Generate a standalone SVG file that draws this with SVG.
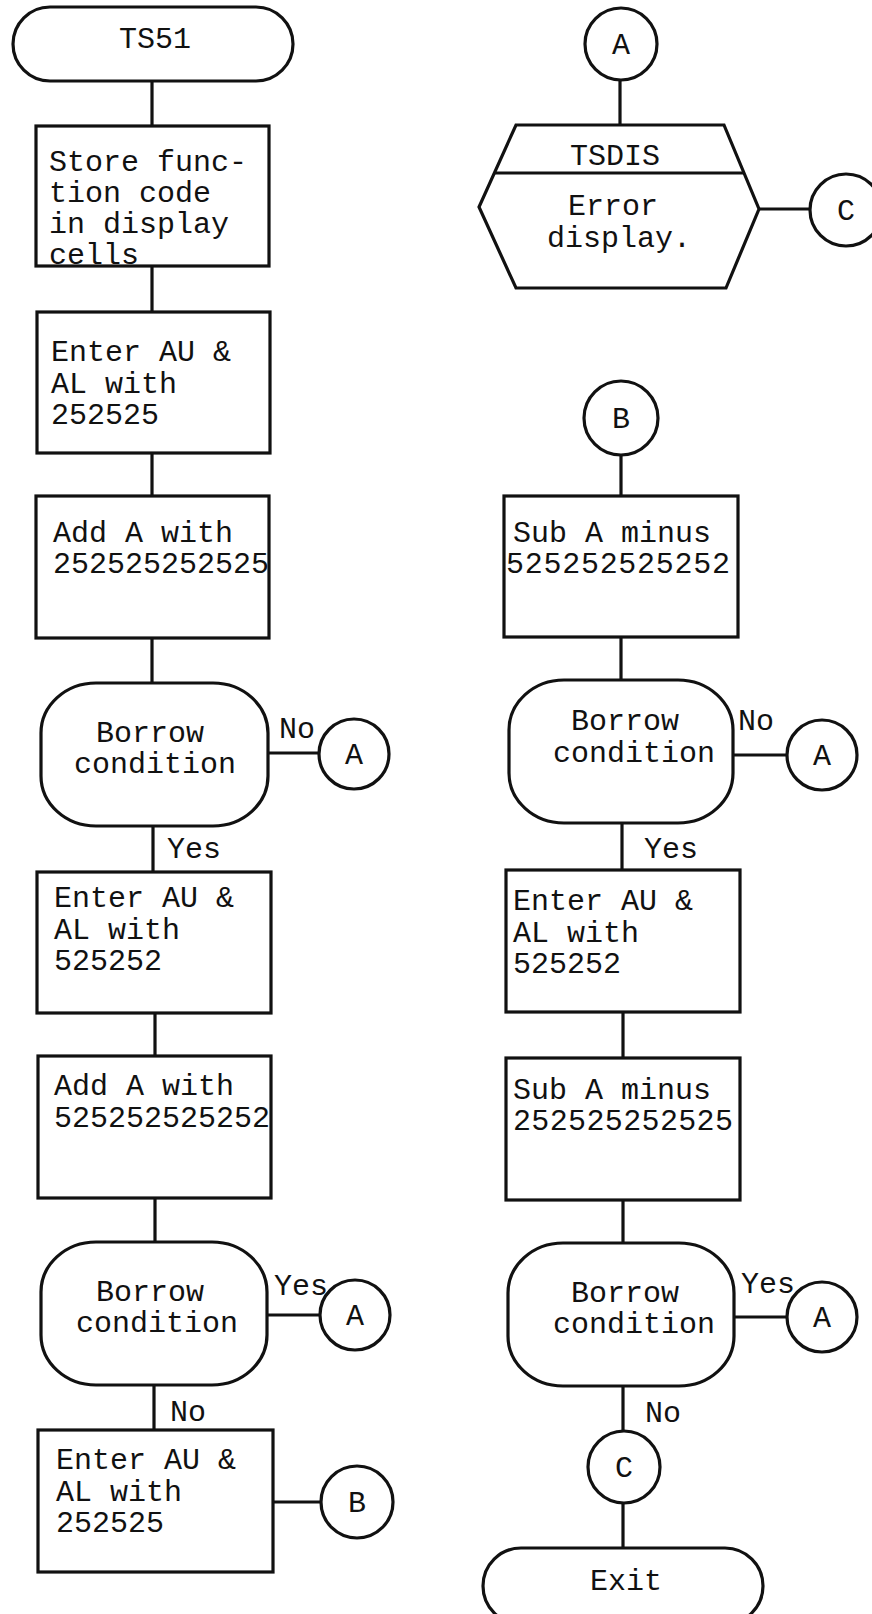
<svg xmlns="http://www.w3.org/2000/svg" width="872" height="1614" viewBox="0 0 872 1614">
<style>
.s{fill:none;stroke:#111;stroke-width:3.2}
.f{fill:#fff;stroke:#111;stroke-width:3.2}
text{font-family:"Liberation Mono","DejaVu Sans Mono",monospace;font-size:30px;fill:#111}
.m{text-anchor:middle}
</style>
<rect width="872" height="1614" fill="#fff"/>
<g id="connectors" class="s">
<line x1="152" y1="81" x2="152" y2="126"/>
<line x1="152" y1="266" x2="152" y2="312"/>
<line x1="152" y1="453" x2="152" y2="496"/>
<line x1="152" y1="638" x2="152" y2="683"/>
<line x1="268" y1="753" x2="319" y2="753"/>
<line x1="153" y1="826" x2="153" y2="872"/>
<line x1="155" y1="1013" x2="155" y2="1056"/>
<line x1="155" y1="1198" x2="155" y2="1242"/>
<line x1="267" y1="1315" x2="320" y2="1315"/>
<line x1="154" y1="1385" x2="154" y2="1430"/>
<line x1="273" y1="1502" x2="321" y2="1502"/>
<line x1="620" y1="80" x2="620" y2="125"/>
<line x1="759" y1="209" x2="810" y2="209"/>
<line x1="621" y1="455" x2="621" y2="496"/>
<line x1="621" y1="637" x2="621" y2="680"/>
<line x1="733" y1="755" x2="786" y2="755"/>
<line x1="622" y1="823" x2="622" y2="870"/>
<line x1="623" y1="1012" x2="623" y2="1058"/>
<line x1="623" y1="1200" x2="623" y2="1243"/>
<line x1="734" y1="1317" x2="786" y2="1317"/>
<line x1="623" y1="1386" x2="623" y2="1431"/>
<line x1="623" y1="1503" x2="623" y2="1548"/>
</g>
<g id="ts51"><rect class="f" x="13" y="7" width="280" height="74" rx="37"/><text x="155" y="48" class="m">TS51</text></g>
<g id="store"><rect class="f" x="36" y="126" width="233" height="140"/>
<text><tspan x="49" y="171">Store func-</tspan><tspan x="49" y="202">tion code</tspan><tspan x="49" y="233">in display</tspan><tspan x="49" y="264">cells</tspan></text></g>
<g id="enter1"><rect class="f" x="37" y="312" width="233" height="141"/>
<text><tspan x="51" y="361">Enter AU &amp;</tspan><tspan x="51" y="393">AL with</tspan><tspan x="51" y="424">252525</tspan></text></g>
<g id="add1"><rect class="f" x="36" y="496" width="233" height="142"/>
<text><tspan x="53" y="542">Add A with</tspan><tspan x="53" y="573" textLength="216">252525252525</tspan></text></g>
<g id="borrow1"><rect class="f" x="41" y="683" width="227" height="143" rx="55" ry="50"/>
<text class="m"><tspan x="150" y="742">Borrow</tspan><tspan x="155" y="773">condition</tspan></text></g>
<text x="279" y="738">No</text>
<g id="connA1"><circle class="f" cx="354" cy="754" r="35"/><text x="354" y="764" class="m">A</text></g>
<text x="167" y="858">Yes</text>
<g id="enter2"><rect class="f" x="37" y="872" width="234" height="141"/>
<text><tspan x="54" y="907">Enter AU &amp;</tspan><tspan x="54" y="939">AL with</tspan><tspan x="54" y="970">525252</tspan></text></g>
<g id="add2"><rect class="f" x="38" y="1056" width="233" height="142"/>
<text><tspan x="54" y="1095">Add A with</tspan><tspan x="54" y="1127" textLength="216">525252525252</tspan></text></g>
<g id="borrow2"><rect class="f" x="41" y="1242" width="226" height="143" rx="55" ry="50"/>
<text class="m"><tspan x="150" y="1301">Borrow</tspan><tspan x="157" y="1332">condition</tspan></text></g>
<text x="274" y="1295">Yes</text>
<g id="connA2"><circle class="f" cx="355" cy="1315" r="35"/><text x="355" y="1325" class="m">A</text></g>
<text x="170" y="1421">No</text>
<g id="enter3"><rect class="f" x="38" y="1430" width="235" height="142"/>
<text><tspan x="56" y="1469">Enter AU &amp;</tspan><tspan x="56" y="1501">AL with</tspan><tspan x="56" y="1532">252525</tspan></text></g>
<g id="connB1"><circle class="f" cx="357" cy="1502" r="36"/><text x="357" y="1512" class="m">B</text></g>
<g id="connA0"><circle class="f" cx="621" cy="44" r="36"/><text x="621" y="54" class="m">A</text></g>
<g id="tsdis"><polygon class="f" points="516,125 724,125 759,209 726,288 516,288 479,207"/>
<line class="s" x1="494" y1="173" x2="744" y2="173"/>
<text x="615" y="165" class="m">TSDIS</text>
<text class="m"><tspan x="613" y="215">Error</tspan><tspan x="619" y="247">display.</tspan></text></g>
<g id="connC0"><circle class="f" cx="846" cy="210" r="36"/><text x="846" y="220" class="m">C</text></g>
<g id="connB2"><circle class="f" cx="621" cy="418" r="37"/><text x="621" y="428" class="m">B</text></g>
<g id="sub1"><rect class="f" x="504" y="496" width="234" height="141"/>
<text><tspan x="513" y="542">Sub A minus</tspan><tspan x="506" y="573" textLength="224">525252525252</tspan></text></g>
<g id="borrow3"><rect class="f" x="509" y="680" width="224" height="143" rx="55" ry="50"/>
<text class="m"><tspan x="625" y="730">Borrow</tspan><tspan x="634" y="762">condition</tspan></text></g>
<text x="738" y="730">No</text>
<g id="connA3"><circle class="f" cx="822" cy="755" r="35"/><text x="822" y="765" class="m">A</text></g>
<text x="644" y="858">Yes</text>
<g id="enter4"><rect class="f" x="506" y="870" width="234" height="142"/>
<text><tspan x="513" y="910">Enter AU &amp;</tspan><tspan x="513" y="942">AL with</tspan><tspan x="513" y="973">525252</tspan></text></g>
<g id="sub2"><rect class="f" x="506" y="1058" width="234" height="142"/>
<text><tspan x="513" y="1099">Sub A minus</tspan><tspan x="513" y="1130" textLength="220">252525252525</tspan></text></g>
<g id="borrow4"><rect class="f" x="508" y="1243" width="226" height="143" rx="55" ry="50"/>
<text class="m"><tspan x="625" y="1302">Borrow</tspan><tspan x="634" y="1333">condition</tspan></text></g>
<text x="741" y="1293">Yes</text>
<g id="connA4"><circle class="f" cx="822" cy="1317" r="35"/><text x="822" y="1327" class="m">A</text></g>
<text x="645" y="1422">No</text>
<g id="connC1"><circle class="f" cx="624" cy="1467" r="36"/><text x="624" y="1477" class="m">C</text></g>
<g id="exit"><rect class="f" x="483" y="1548" width="280" height="76" rx="38"/><text x="626" y="1590" class="m">Exit</text></g>
</svg>
